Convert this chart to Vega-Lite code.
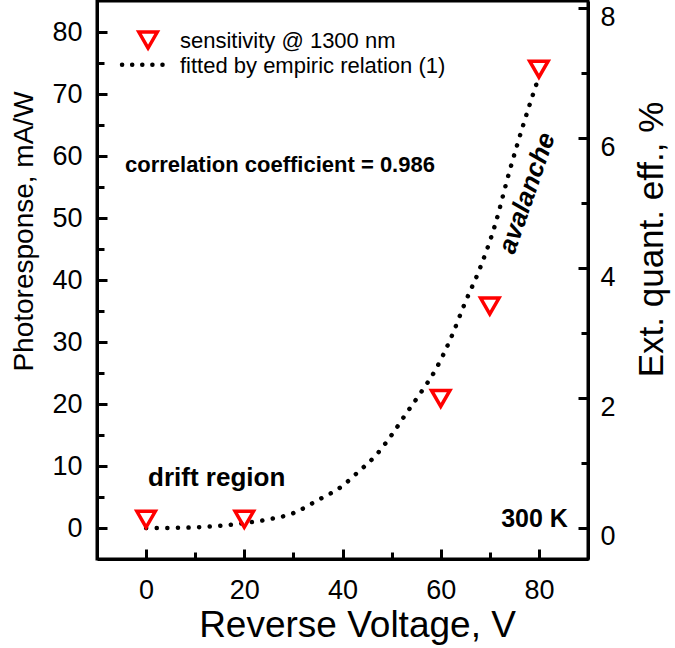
{
  "$schema": "https://vega.github.io/schema/vega-lite/v6.json",
  "width": 491,
  "height": 558,
  "autosize": {"type": "none"},
  "padding": {"left": 97, "top": 1, "right": 87, "bottom": 89},
  "background": "white",
  "config": {
    "view": {"stroke": "black", "strokeWidth": 3},
    "font": "Liberation Sans",
    "axis": {
      "domainColor": "black", "domainWidth": 3,
      "tickColor": "black", "tickWidth": 3,
      "labelFont": "Liberation Sans", "labelFontSize": 27, "labelColor": "black",
      "titleFont": "Liberation Sans", "titleFontWeight": "normal", "titleColor": "black",
      "grid": false
    }
  },
  "datasets": {
    "fit": [
      {"v": 0, "r": 0}, {"v": 5, "r": 0.02}, {"v": 10, "r": 0.1}, {"v": 15, "r": 0.35},
      {"v": 20, "r": 0.8}, {"v": 25, "r": 1.4}, {"v": 30, "r": 2.4}, {"v": 35, "r": 4.5},
      {"v": 40, "r": 6.8}, {"v": 43, "r": 8.9}, {"v": 47, "r": 11.9}, {"v": 50, "r": 15},
      {"v": 53, "r": 18.5}, {"v": 56, "r": 21.9}, {"v": 59, "r": 25.6}, {"v": 62, "r": 30.5},
      {"v": 65, "r": 36.4}, {"v": 68, "r": 41.9}, {"v": 71, "r": 48.7}, {"v": 74, "r": 57.5},
      {"v": 77, "r": 65.5}, {"v": 80, "r": 72.8}
    ],
    "pts": [
      {"v": 0, "r": 1.4}, {"v": 20, "r": 1.4}, {"v": 60, "r": 20.9}, {"v": 70, "r": 35.8}, {"v": 80, "r": 74}
    ],
    "legtri": [{"v": 0.4, "r": 78.7}],
    "legline": [{"v": -4.9, "r": 74.7}, {"v": 5.3, "r": 74.7}],
    "legtext": [
      {"v": 6.9, "r": 77.4, "t": "sensitivity @ 1300 nm"},
      {"v": 6.9, "r": 73.4, "t": "fitted by empiric relation (1)"}
    ],
    "pct": [{"p": 0}, {"p": 8}]
  },
  "layer": [
    {
      "data": {"name": "fit"},
      "mark": {"type": "line", "stroke": "black", "strokeWidth": 4.5, "strokeDash": [0.1, 10.5], "strokeCap": "round", "interpolate": "monotone"},
      "encoding": {
        "x": {"field": "v", "type": "quantitative", "scale": {"domain": [-10, 90], "nice": false, "zero": false},
          "axis": {"values": [0, 10, 20, 30, 40, 50, 60, 70, 80], "labelExpr": "datum.value % 20 === 0 ? datum.label : ''",
            "tickSize": {"condition": {"test": "datum.value % 20 === 0", "value": -10}, "value": -7},
            "labelPadding": 28, "title": "Reverse Voltage, V", "titleFontSize": 37,
            "titleX": 260, "titleY": 77, "titleAlign": "center", "titleBaseline": "alphabetic"}},
        "y": {"field": "r", "type": "quantitative", "scale": {"domain": [-5, 85], "nice": false, "zero": false},
          "axis": {"orient": "left", "values": [0, 10, 20, 30, 40, 50, 60, 70, 80],
            "tickSize": -10, "labelPadding": 25, "title": "Photoresponse, mA/W", "titleFontSize": 28, "titleAngle": -90,
            "titleX": -65, "titleY": 230, "titleAlign": "center", "titleBaseline": "alphabetic"}}
      }
    },
    {
      "data": {"name": "fit"},
      "mark": {"type": "point", "opacity": 0},
      "encoding": {
        "x": {"field": "v", "type": "quantitative", "scale": {"domain": [-10, 90], "nice": false, "zero": false}},
        "y": {"field": "r", "type": "quantitative", "scale": {"domain": [-5, 85], "nice": false, "zero": false},
          "axis": {"orient": "left", "values": [5, 15, 25, 35, 45, 55, 65, 75], "labels": false, "domain": false, "tickSize": -7, "title": null}}
      }
    },
    {
      "data": {"name": "pts"},
      "mark": {"type": "point", "shape": "triangle-down", "filled": false, "stroke": "#ff0000", "strokeWidth": 3.5, "size": 340, "opacity": 1},
      "encoding": {
        "x": {"field": "v", "type": "quantitative", "scale": {"domain": [-10, 90], "nice": false, "zero": false}},
        "y": {"field": "r", "type": "quantitative", "scale": {"domain": [-5, 85], "nice": false, "zero": false}, "axis": null}
      }
    },
    {
      "data": {"name": "legtri"},
      "mark": {"type": "point", "shape": "triangle-down", "filled": false, "stroke": "#ff0000", "strokeWidth": 3.5, "size": 340, "opacity": 1},
      "encoding": {
        "x": {"field": "v", "type": "quantitative", "scale": {"domain": [-10, 90], "nice": false, "zero": false}},
        "y": {"field": "r", "type": "quantitative", "scale": {"domain": [-5, 85], "nice": false, "zero": false}, "axis": null}
      }
    },
    {
      "data": {"name": "legline"},
      "mark": {"type": "line", "stroke": "black", "strokeWidth": 4.5, "strokeDash": [0.1, 10], "strokeCap": "round"},
      "encoding": {
        "x": {"field": "v", "type": "quantitative", "scale": {"domain": [-10, 90], "nice": false, "zero": false}},
        "y": {"field": "r", "type": "quantitative", "scale": {"domain": [-5, 85], "nice": false, "zero": false}, "axis": null}
      }
    },
    {
      "data": {"name": "legtext"},
      "mark": {"type": "text", "font": "Liberation Sans", "fontSize": 22, "align": "left", "baseline": "alphabetic", "color": "black"},
      "encoding": {
        "x": {"field": "v", "type": "quantitative", "scale": {"domain": [-10, 90], "nice": false, "zero": false}},
        "y": {"field": "r", "type": "quantitative", "scale": {"domain": [-5, 85], "nice": false, "zero": false}, "axis": null},
        "text": {"field": "t"}
      }
    },
    {
      "data": {"values": [{"v": -4.3, "r": 57.5, "t": "correlation coefficient = 0.986"}]},
      "mark": {"type": "text", "font": "Liberation Sans", "fontSize": 22, "fontWeight": "bold", "align": "left", "baseline": "alphabetic", "color": "black"},
      "encoding": {
        "x": {"field": "v", "type": "quantitative", "scale": {"domain": [-10, 90], "nice": false, "zero": false}},
        "y": {"field": "r", "type": "quantitative", "scale": {"domain": [-5, 85], "nice": false, "zero": false}, "axis": null},
        "text": {"field": "t"}
      }
    },
    {
      "data": {"values": [{"v": 0.4, "r": 6.7, "t": "drift region"}]},
      "mark": {"type": "text", "font": "Liberation Sans", "fontSize": 26, "fontWeight": "bold", "align": "left", "baseline": "alphabetic", "color": "black"},
      "encoding": {
        "x": {"field": "v", "type": "quantitative", "scale": {"domain": [-10, 90], "nice": false, "zero": false}},
        "y": {"field": "r", "type": "quantitative", "scale": {"domain": [-5, 85], "nice": false, "zero": false}, "axis": null},
        "text": {"field": "t"}
      }
    },
    {
      "data": {"values": [{"v": 85.9, "r": 0.2, "t": "300 K"}]},
      "mark": {"type": "text", "font": "Liberation Sans", "fontSize": 25, "fontWeight": "bold", "align": "right", "baseline": "alphabetic", "color": "black"},
      "encoding": {
        "x": {"field": "v", "type": "quantitative", "scale": {"domain": [-10, 90], "nice": false, "zero": false}},
        "y": {"field": "r", "type": "quantitative", "scale": {"domain": [-5, 85], "nice": false, "zero": false}, "axis": null},
        "text": {"field": "t"}
      }
    },
    {
      "data": {"values": [{"v": 77.6, "r": 54, "t": "avalanche"}]},
      "mark": {"type": "text", "font": "Liberation Sans", "fontSize": 26, "fontWeight": "bold", "fontStyle": "italic", "align": "center", "baseline": "middle", "angle": -71, "color": "black"},
      "encoding": {
        "x": {"field": "v", "type": "quantitative", "scale": {"domain": [-10, 90], "nice": false, "zero": false}},
        "y": {"field": "r", "type": "quantitative", "scale": {"domain": [-5, 85], "nice": false, "zero": false}, "axis": null},
        "text": {"field": "t"}
      }
    },
    {
      "data": {"name": "pct"},
      "mark": {"type": "point", "opacity": 0},
      "encoding": {
        "y": {"field": "p", "type": "quantitative", "scale": {"domain": [-0.477, 8.108], "nice": false, "zero": false},
          "axis": {"orient": "right", "values": [0, 2, 4, 6, 8],
            "tickSize": -10, "labelPadding": 22, "labelOffset": 9, "title": "Ext. quant. eff., %", "titleFontSize": 35, "titleAngle": -90,
            "titleX": 74, "titleY": 238, "titleAlign": "center", "titleBaseline": "alphabetic"}}
      }
    },
    {
      "data": {"name": "pct"},
      "mark": {"type": "point", "opacity": 0},
      "encoding": {
        "y": {"field": "p", "type": "quantitative", "scale": {"domain": [-0.477, 8.108], "nice": false, "zero": false},
          "axis": {"orient": "right", "values": [1, 3, 5, 7], "labels": false, "domain": false, "tickSize": -7, "title": null}}
      }
    }
  ],
  "resolve": {"scale": {"y": "independent"}, "axis": {"y": "independent"}}
}
